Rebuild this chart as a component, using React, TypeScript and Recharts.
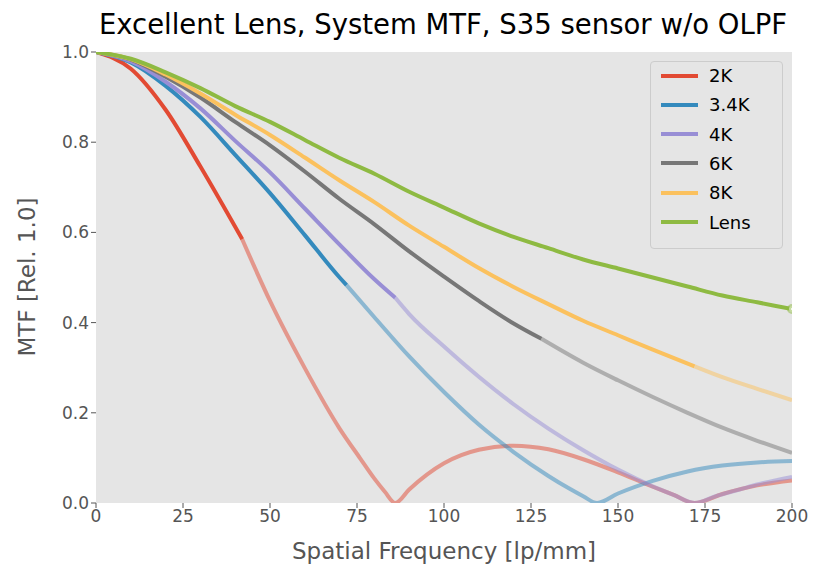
import React from "react";
import { LineChart, Line, XAxis, YAxis, CartesianGrid } from "recharts";

type Pt = { f: number; v: number };

const xTicks = [0, 25, 50, 75, 100, 125, 150, 175, 200];
const yTicks = [0, 0.2, 0.4, 0.6, 0.8, 1.0];

const lens: Pt[] = [
  [0, 1.0], [10, 0.985], [20, 0.955], [30, 0.92], [40, 0.88], [50, 0.845], [60, 0.805],
  [70, 0.765], [80, 0.73], [90, 0.69], [100, 0.655], [110, 0.62], [120, 0.59], [130, 0.565],
  [140, 0.54], [150, 0.52], [160, 0.5], [170, 0.48], [180, 0.46], [190, 0.445], [200, 0.43],
].map(([f, v]) => ({ f, v }));

const k8: Pt[] = [
  [0, 1.0], [10, 0.984], [20, 0.95], [30, 0.908], [40, 0.861], [50, 0.816], [60, 0.766],
  [70, 0.715], [80, 0.667], [90, 0.615], [100, 0.568], [110, 0.521], [120, 0.479], [130, 0.441],
  [140, 0.404], [150, 0.372], [160, 0.34], [172, 0.303], [180, 0.279], [190, 0.253], [200, 0.228],
].map(([f, v]) => ({ f, v }));

const k6: Pt[] = [
  [0, 1.0], [10, 0.983], [20, 0.945], [30, 0.899], [40, 0.845], [50, 0.793], [60, 0.735],
  [70, 0.674], [80, 0.618], [90, 0.558], [100, 0.502], [110, 0.448], [120, 0.398], [128, 0.364],
  [140, 0.311], [150, 0.272], [160, 0.235], [170, 0.2], [180, 0.167], [190, 0.138], [200, 0.111],
].map(([f, v]) => ({ f, v }));

const k4: Pt[] = [
  [0, 1.0], [10, 0.979], [20, 0.934], [30, 0.875], [40, 0.803], [50, 0.733], [60, 0.653],
  [70, 0.573], [80, 0.496], [86, 0.455], [90, 0.419], [100, 0.347], [110, 0.28], [120, 0.219],
  [130, 0.165], [140, 0.117], [150, 0.074], [160, 0.037], [166, 0.018], [172, 0.0],
  [178, 0.015], [185, 0.03], [190, 0.041], [200, 0.058],
].map(([f, v]) => ({ f, v }));

const k34: Pt[] = [
  [0, 1.0], [10, 0.977], [20, 0.925], [30, 0.856], [40, 0.772], [50, 0.687], [60, 0.594],
  [70, 0.5], [72, 0.483], [80, 0.412], [90, 0.325], [100, 0.246], [110, 0.174], [120, 0.113],
  [130, 0.06], [136, 0.032], [140, 0.015], [144, 0.0], [150, 0.021], [160, 0.049],
  [170, 0.07], [180, 0.083], [190, 0.09], [200, 0.093],
].map(([f, v]) => ({ f, v }));

const k2: Pt[] = [
  [0, 1.0], [10, 0.963], [20, 0.872], [30, 0.746], [42, 0.585], [50, 0.448], [60, 0.299],
  [70, 0.165], [76, 0.098], [80, 0.054], [83, 0.025], [86, 0.0], [90, 0.03], [100, 0.088],
  [110, 0.118], [120, 0.127], [130, 0.119], [140, 0.097], [150, 0.068], [160, 0.036],
  [166, 0.018], [172, 0.0], [180, 0.02], [190, 0.039], [200, 0.05],
].map(([f, v]) => ({ f, v }));

const series = [
  { name: "2K", data: k2, nyq: 42, color: "#E24A33" },
  { name: "3.4K", data: k34, nyq: 72, color: "#348ABD" },
  { name: "4K", data: k4, nyq: 86, color: "#988ED5" },
  { name: "6K", data: k6, nyq: 128, color: "#777777" },
  { name: "8K", data: k8, nyq: 172, color: "#FBC15E" },
  { name: "Lens", data: lens, nyq: 200, color: "#8EBA42" },
];

const font = "DejaVu Sans, sans-serif";
const L = 96, T = 52, W = 696, H = 451;

export default function App() {
  return (
    <div style={{ position: "absolute", left: 0, top: 0, width: 834, height: 585, background: "#fff", fontFamily: font }}>
      <div style={{ position: "absolute", left: 40, width: 806, top: 8, textAlign: "center", fontSize: 27.5, color: "#000", whiteSpace: "nowrap" }}>
        Excellent Lens, System MTF, S35 sensor w/o OLPF
      </div>
      <LineChart width={834} height={585} margin={{ top: T, right: 834 - L - W, bottom: 585 - T - H - 30, left: L - 40 }}>
        <rect x={L} y={T} width={W} height={H} fill="#E5E5E5" />
        <CartesianGrid stroke="#fff" strokeWidth={1.5}
          verticalPoints={xTicks.map((t) => L + (t / 200) * W)}
          horizontalPoints={yTicks.map((t) => T + (1 - t) * H)} />
        <XAxis
          type="number" dataKey="f" domain={[0, 200]} ticks={xTicks} allowDataOverflow
          axisLine={false} tickLine={{ stroke: "#555" }} tickSize={5} height={30}
          tick={{ fill: "#555", fontSize: 17, fontFamily: font }}
        />
        <YAxis
          type="number" dataKey="v" domain={[0, 1]} ticks={yTicks} allowDataOverflow
          axisLine={false} tickLine={{ stroke: "#555" }} tickSize={5} width={40}
          tickFormatter={(t: number) => t.toFixed(1)}
          tick={{ fill: "#555", fontSize: 17, fontFamily: font }}
        />
        {series.map((s) => (
          <Line key={s.name + "f"} data={s.data.filter((p) => p.f >= s.nyq)} dataKey="v" type="monotone"
            stroke={s.color} strokeOpacity={0.5} strokeWidth={4} dot={false} activeDot={false} isAnimationActive={false} />
        ))}
        {series.map((s) => (
          <Line key={s.name} data={s.data.filter((p) => p.f <= s.nyq)} dataKey="v" type="monotone"
            stroke={s.color} strokeWidth={4} dot={false} activeDot={false} isAnimationActive={false} />
        ))}
      </LineChart>
      <div style={{ position: "absolute", left: 244, width: 400, top: 538, textAlign: "center", fontSize: 23, color: "#555" }}>
        Spatial Frequency [lp/mm]
      </div>
      <div style={{ position: "absolute", left: 27, top: 277, fontSize: 23, color: "#555", transform: "translate(-50%,-50%) rotate(-90deg)", whiteSpace: "nowrap" }}>
        MTF [Rel. 1.0]
      </div>
      <div style={{ position: "absolute", left: 650, top: 61, width: 133, height: 188, background: "rgba(229,229,229,0.8)", border: "1px solid #ccc", borderRadius: 4, boxSizing: "border-box" }}>
        {series.map((s, i) => (
          <div key={s.name} style={{ position: "absolute", left: 10, top: 3 + i * 29.3, display: "flex", alignItems: "center", fontSize: 18 }}>
            <div style={{ width: 37, height: 4, background: s.color, marginRight: 11 }} />
            <span>{s.name}</span>
          </div>
        ))}
      </div>
    </div>
  );
}
